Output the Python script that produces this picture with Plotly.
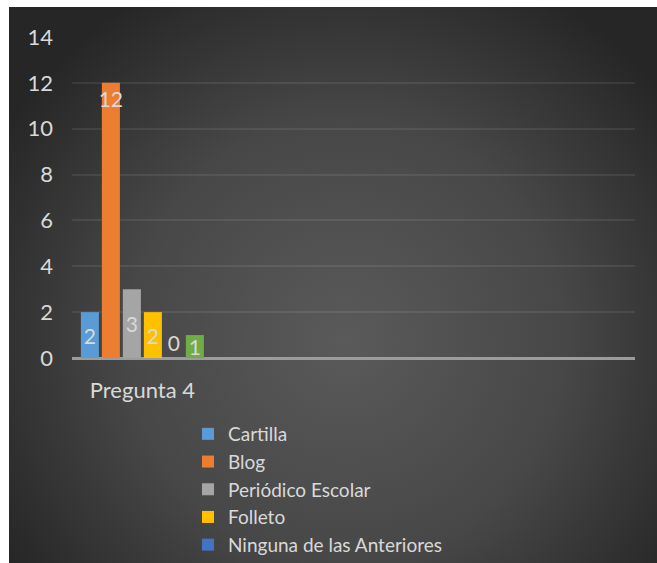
import base64
import plotly.graph_objects as go

W, H = 657, 563
ML, MR, MT, MB = 72, 22, 37, 205

FONT = "Lato, Carlito, Calibri, sans-serif"
TXT = "#d9d9d9"

categories = ["Pregunta 4"]
series = ["Cartilla", "Blog", "Periódico Escolar", "Folleto", "Ninguna de las Anteriores", "Todas las Anteriores"]
values = [2, 12, 3, 2, 0, 1]
colors = ["#5b9bd5", "#ed7d31", "#a5a5a5", "#ffc000", "#4472c4", "#70ad47"]
in_legend = [True, True, True, True, True, False]
y_ticks = [0, 2, 4, 6, 8, 10, 12, 14]

# label placement per series (Excel-ish)
label_pos = ["inside", "inside", "inside", "inside", "outside", "inside"]
label_anchor = ["middle", "end", "middle", "middle", "middle", "middle"]

# dark radial background, as an svg image behind everything
bg_x0, bg_y0, bg_x1, bg_y1 = 9, 7, 657, 563
bw, bh = bg_x1 - bg_x0, bg_y1 - bg_y0
svg = f"""<svg xmlns='http://www.w3.org/2000/svg' width='{bw}' height='{bh}' viewBox='0 0 {bw} {bh}' preserveAspectRatio='none'>
<defs><radialGradient id='g' gradientUnits='userSpaceOnUse' cx='{bw*0.52}' cy='{bh*0.6}' r='{bw*0.62}'>
<stop offset='0' stop-color='#5a5a5a'/><stop offset='0.55' stop-color='#474747'/><stop offset='1' stop-color='#262626'/>
</radialGradient></defs><rect width='{bw}' height='{bh}' fill='url(#g)'/></svg>"""
svg_uri = "data:image/svg+xml;base64," + base64.b64encode(svg.encode()).decode()

pw, ph = W - ML - MR, H - MT - MB

fig = go.Figure()
for name, v, c, show, tp, ta in zip(series, values, colors, in_legend, label_pos, label_anchor):
    fig.add_trace(
        go.Bar(
            x=categories,
            y=[v],
            name=name,
            marker=dict(color=c, line=dict(width=0)),
            text=[str(v)],
            textposition=tp,
            insidetextanchor=ta,
            textangle=0,
            constraintext="none",
            textfont=dict(color=TXT, size=21, family=FONT),
            cliponaxis=False,
            showlegend=show,
        )
    )

fig.update_layout(
    width=W,
    height=H,
    margin=dict(l=ML, r=MR, t=MT, b=MB, autoexpand=False),
    paper_bgcolor="white",
    plot_bgcolor="rgba(0,0,0,0)",
    font=dict(family=FONT, color=TXT, size=21),
    barmode="group",
    bargap=0.105,
    bargroupgap=0.14,
    images=[
        dict(
            source=svg_uri,
            xref="paper",
            yref="paper",
            x=(bg_x0 - ML) / pw,
            y=(H - MB - bg_y0) / ph,
            sizex=bw / pw,
            sizey=bh / ph,
            xanchor="left",
            yanchor="top",
            sizing="stretch",
            layer="below",
        )
    ],
    legend=dict(
        orientation="v",
        x=(188 - ML) / pw,
        xanchor="left",
        y=(H - MB - 415) / ph,
        yanchor="top",
        bgcolor="rgba(0,0,0,0)",
        font=dict(size=19, color=TXT, family=FONT),
        itemwidth=30,
        traceorder="normal",
    ),
)

fig.update_xaxes(
    range=[-0.5, 3.5],
    showgrid=False,
    showline=False,
    zeroline=False,
    ticklabelstandoff=17,
    tickfont=dict(size=22, color=TXT),
)
fig.update_yaxes(
    range=[0, 14],
    tickvals=y_ticks,
    showgrid=True,
    gridcolor="rgba(255,255,255,0.08)",
    gridwidth=1.5,
    zeroline=True,
    zerolinecolor="#9c9c9c",
    zerolinewidth=2.5,
    showline=False,
    ticklabelstandoff=18,
    tickfont=dict(size=22, color=TXT),
)

fig.write_html(
    "out.html",
    config={"displayModeBar": False},
    post_script="document.body.style.margin='0';document.body.style.overflow='hidden';",
)
